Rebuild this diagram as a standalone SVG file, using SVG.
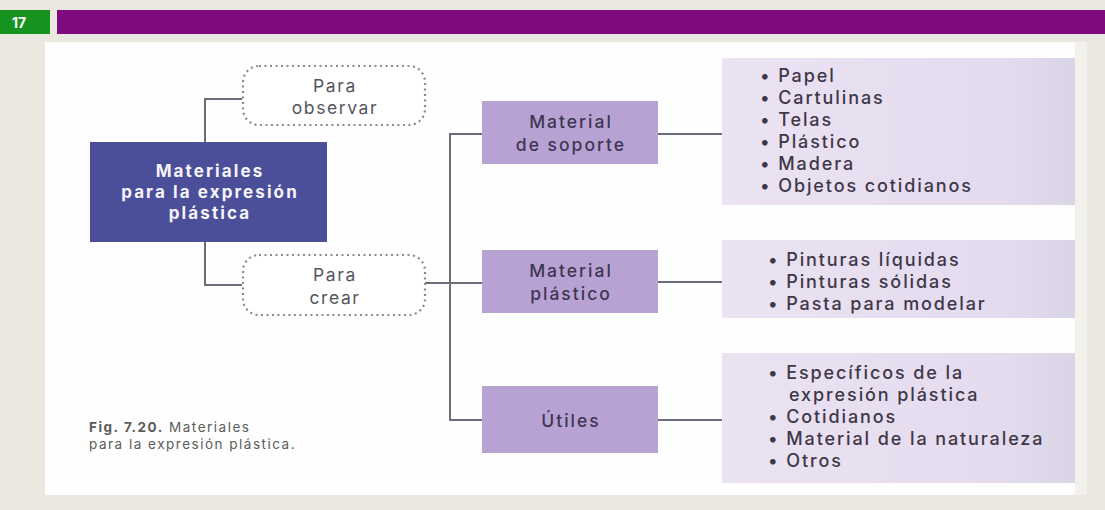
<svg xmlns="http://www.w3.org/2000/svg" width="1105" height="510" viewBox="0 0 1105 510">
<style>
.t{font-family:Inter,"Open Sans",sans-serif;}
.center{font-size:17px;font-weight:bold;fill:#f4f4fa;text-anchor:middle;letter-spacing:2.1px;}
.dash{fill:#ffffff;stroke:#8a8a92;stroke-width:2.2;stroke-dasharray:2 3.5;}
.dt{font-size:17.5px;fill:#555560;text-anchor:middle;letter-spacing:1.6px;}
.lav{fill:#b8a2d4;}
.lt{font-size:17.5px;font-weight:500;fill:#3e3552;text-anchor:middle;letter-spacing:2px;}
.list{font-size:18px;font-weight:500;fill:#3e3748;letter-spacing:1.9px;}
.conn{fill:none;stroke:#6c6c7a;stroke-width:2;}
.cap{font-size:13.5px;fill:#5c5c5c;letter-spacing:1.5px;}
</style>
<defs>
<linearGradient id="lg" x1="0" y1="0" x2="1" y2="0">
<stop offset="0" stop-color="#ebe2f2"/>
<stop offset="0.8" stop-color="#e4dbef"/>
<stop offset="1" stop-color="#d9d4e6"/>
</linearGradient>
</defs>
<rect x="0" y="0" width="1105" height="510" fill="#ebe8e0"/>
<rect x="0" y="10" width="50" height="24" fill="#17941f"/>
<text class="t" x="12" y="28" font-size="14" font-weight="bold" fill="#ffffff">17</text>
<rect x="57" y="10" width="1048" height="24" fill="#7e0a80"/>
<rect x="45" y="42" width="1030" height="453" fill="#fefefe"/>
<rect x="1075" y="42" width="12" height="453" fill="#f2f1ec"/>

<g id="connectors">
<polyline class="conn" points="242,99 205,99 205,142"/>
<polyline class="conn" points="205,242 205,285 242,285"/>
<line class="conn" x1="425" y1="283" x2="450" y2="283"/>
<polyline class="conn" points="482,134 450,134 450,420 482,420"/>
<line class="conn" x1="450" y1="283" x2="482" y2="283"/>
<line class="conn" x1="658" y1="134" x2="722" y2="134"/>
<line class="conn" x1="658" y1="282" x2="722" y2="282"/>
<line class="conn" x1="658" y1="420" x2="722" y2="420"/>
</g>

<g id="central">
<rect x="90" y="142" width="237" height="100" fill="#4b4f99"/>
<text class="t center" x="210" y="177">Materiales</text>
<text class="t center" x="210" y="198">para la expresión</text>
<text class="t center" x="210" y="219">plástica</text>
</g>

<g id="observar">
<rect class="dash" x="243" y="66" width="182" height="59" rx="16"/>
<text class="t dt" x="335" y="92">Para</text>
<text class="t dt" x="335" y="114">observar</text>
</g>

<g id="crear">
<rect class="dash" x="243" y="255" width="182" height="60" rx="16"/>
<text class="t dt" x="335" y="281">Para</text>
<text class="t dt" x="335" y="304">crear</text>
</g>

<g id="soporte">
<rect class="lav" x="482" y="101" width="176" height="63"/>
<text class="t lt" x="571" y="128">Material</text>
<text class="t lt" x="571" y="151">de soporte</text>
</g>

<g id="plastico">
<rect class="lav" x="482" y="250" width="176" height="63"/>
<text class="t lt" x="571" y="277">Material</text>
<text class="t lt" x="571" y="300">plástico</text>
</g>

<g id="utiles">
<rect class="lav" x="482" y="386" width="176" height="67"/>
<text class="t lt" x="571" y="427">Útiles</text>
</g>

<g id="list-soporte">
<rect x="722" y="58" width="353" height="147" fill="url(#lg)"/>
<text class="t list" x="760" y="82">• Papel</text>
<text class="t list" x="760" y="104">• Cartulinas</text>
<text class="t list" x="760" y="126">• Telas</text>
<text class="t list" x="760" y="148">• Plástico</text>
<text class="t list" x="760" y="170">• Madera</text>
<text class="t list" x="760" y="192">• Objetos cotidianos</text>
</g>

<g id="list-plastico">
<rect x="722" y="240" width="353" height="78" fill="url(#lg)"/>
<text class="t list" x="768" y="266">• Pinturas líquidas</text>
<text class="t list" x="768" y="288">• Pinturas sólidas</text>
<text class="t list" x="768" y="310">• Pasta para modelar</text>
</g>

<g id="list-utiles">
<rect x="722" y="353" width="353" height="130" fill="url(#lg)"/>
<text class="t list" x="768" y="379">• Específicos de la</text>
<text class="t list" x="789" y="401">expresión plástica</text>
<text class="t list" x="768" y="423">• Cotidianos</text>
<text class="t list" x="768" y="445">• Material de la naturaleza</text>
<text class="t list" x="768" y="467">• Otros</text>
</g>

<g id="caption">
<text class="t cap" x="89" y="432"><tspan font-weight="bold">Fig. 7.20.</tspan> Materiales</text>
<text class="t cap" x="89" y="449">para la expresión plástica.</text>
</g>
</svg>
